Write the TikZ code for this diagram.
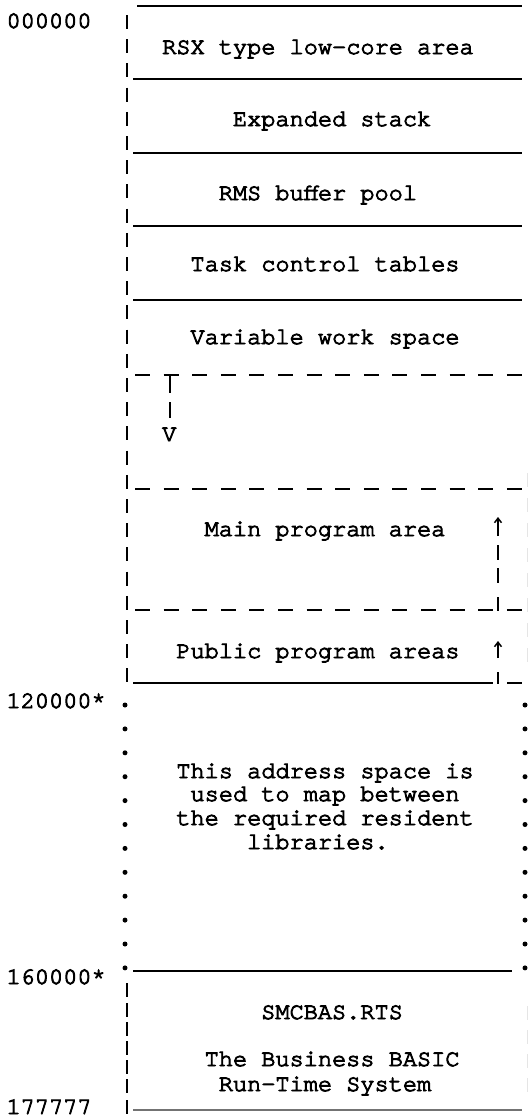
\documentclass[tikz,border=0pt]{standalone}
\usepackage{fontspec}
\newfontfamily\tw{TeX Gyre Cursor}[FakeBold=4]
\usetikzlibrary{arrows.meta}
\begin{document}
\begin{tikzpicture}[x=1pt,y=-1pt,
  txt/.style={inner sep=0pt,anchor=base west,font=\tw\fontsize{23.6}{24}\selectfont},
  rule/.style={line width=1.7pt,black},
  dashrule/.style={line width=1.7pt,black,dash pattern=on 15pt off 13.6pt},
  pipe/.style={line width=1.9pt,black},
  faint/.style={line width=1pt,gray!20},
  arr/.style={line width=1.6pt,-{Straight Barb[length=4.5pt,width=7pt,line width=1.5pt]}}]
\useasboundingbox (0,0) rectangle (528,1117);
% ---- address labels
\node[txt] (a0) at ({162-14.15*11},28) {000000};
\node[txt] (a1) at ({162-14.15*11},708) {120000*};
\node[txt] (a2) at ({162-14.15*11},984) {160000*};
\node[txt] (a3) at ({162-14.15*11},1114) {177777};
% ---- area texts
\node[txt] (rsx)  at ({162+14.15*0},54)  {RSX type low-core area};
\node[txt] (exp)  at ({162+14.15*5},126) {Expanded stack};
\node[txt] (rms)  at ({162+14.15*4},200) {RMS buffer pool};
\node[txt] (task) at ({162+14.15*2},271) {Task control tables};
\node[txt] (var)  at ({162+14.15*2},344) {Variable work space};
\node[txt] (vv)   at ({162+14.15*0},441) {V};
\node[txt] (main) at ({162+14.15*3},536) {Main program area};
\node[txt] (pub)  at ({162+14.15*1},658) {Public program areas};
\node[txt] (t1)   at ({162+14.15*1},778) {This address space is};
\node[txt] (t2)   at ({162+14.15*2},801) {used to map between};
\node[txt] (t3)   at ({162+14.15*1},825) {the required resident};
\node[txt] (t4)   at ({162+14.15*6},849) {libraries.};
\node[txt] (smc)  at ({162+14.15*7},1019) {SMCBAS.RTS};
\node[txt] (bb1)  at ({162+14.15*3},1066) {The Business BASIC};
\node[txt] (bb2)  at ({162+14.15*4},1091) {Run-Time System};
% ---- horizontal rules
\draw[rule] (137,6) -- (522,6);
\foreach \yy in {79,153,226,300} {\draw[rule] (133,\yy) -- (522,\yy);}
\draw[dashrule] (135,375) -- (523,375);
\draw[dashrule] (135,489) -- (523,489);
\draw[dashrule] (135,610) -- (523,610);
\draw[rule] (133,683) -- (493,683);
\draw[rule] (507,683) -- (522,683);
\draw[rule] (133,971) -- (512,971);
\draw[line width=1.4pt,black!55] (133,1110) -- (522,1110);
% ---- left pipe column
\foreach \r in {0,...,27} {\draw[pipe] (127,{28+24.2*\r-13}) -- (127,{28+24.2*\r+1});}
\foreach \yy in {990,1010,1029,1048,1067,1086,1107} {\draw[pipe] (127,\yy-7) -- (127,\yy+7);}
% ---- dotted columns
\foreach \i in {0,...,11} {
  \fill (125,{705+23.9*\i}) circle (2.5pt);
  \fill (525,{705+23.9*\i}) circle (2.5pt);
}
% ---- small downward pointer
\draw[pipe] (170,375) -- (170,393);
\draw[pipe] (170,402) -- (170,418);
% ---- upward pointers
\draw[arr] (498,536) -- (498,517);
\foreach \a/\b in {545/560,568/583,597/611} {\draw[pipe] (498,\a) -- (498,\b);}
\draw[arr] (498,658) -- (498,641);
\draw[pipe] (498,672) -- (498,684);
% ---- faint clipped right column
\foreach \yy in {480,505,530,555,580,605,630,655} {\draw[faint] (527,\yy-7) -- (527,\yy+7);}
\foreach \yy in {1013,1037,1061,1085} {\draw[faint] (527,\yy-7) -- (527,\yy+7);}
\end{tikzpicture}
\end{document}
